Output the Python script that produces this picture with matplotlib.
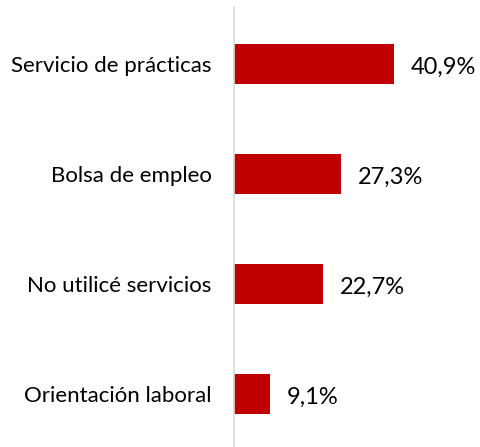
import matplotlib
matplotlib.use("Agg")
import matplotlib.pyplot as plt

categories = ["Servicio de prácticas", "Bolsa de empleo", "No utilicé servicios", "Orientación laboral"]
values = [40.9, 27.3, 22.7, 9.1]

plt.rcParams['font.family'] = ['Lato', 'DejaVu Sans']

fig = plt.figure(figsize=(4.8, 4.47), dpi=100)
ax = fig.add_axes([234/480, 0.0, 242/480, 440/447])
y = list(range(len(categories)))
ax.barh(y, values, height=0.36, color="#C00000")
ax.set_xlim(0, 62)
ax.set_ylim(3.48, -0.52)
ax.set_yticks(y)
ax.set_yticklabels(categories, fontsize=16, color="#000000")
ax.tick_params(axis='y', length=0, pad=16)
ax.set_xticks([])
for s in ['top', 'right', 'bottom']:
    ax.spines[s].set_visible(False)
ax.spines['left'].set_color("#D9D9D9")
ax.spines['left'].set_linewidth(1.2)
for yi, v in zip(y, values):
    ax.text(v + 4.5, yi + 0.03, f"{v:.1f}".replace('.', ',') + "%", va='center', ha='left', fontsize=17, color="#000000")

fig.savefig("out.png", dpi=100)
